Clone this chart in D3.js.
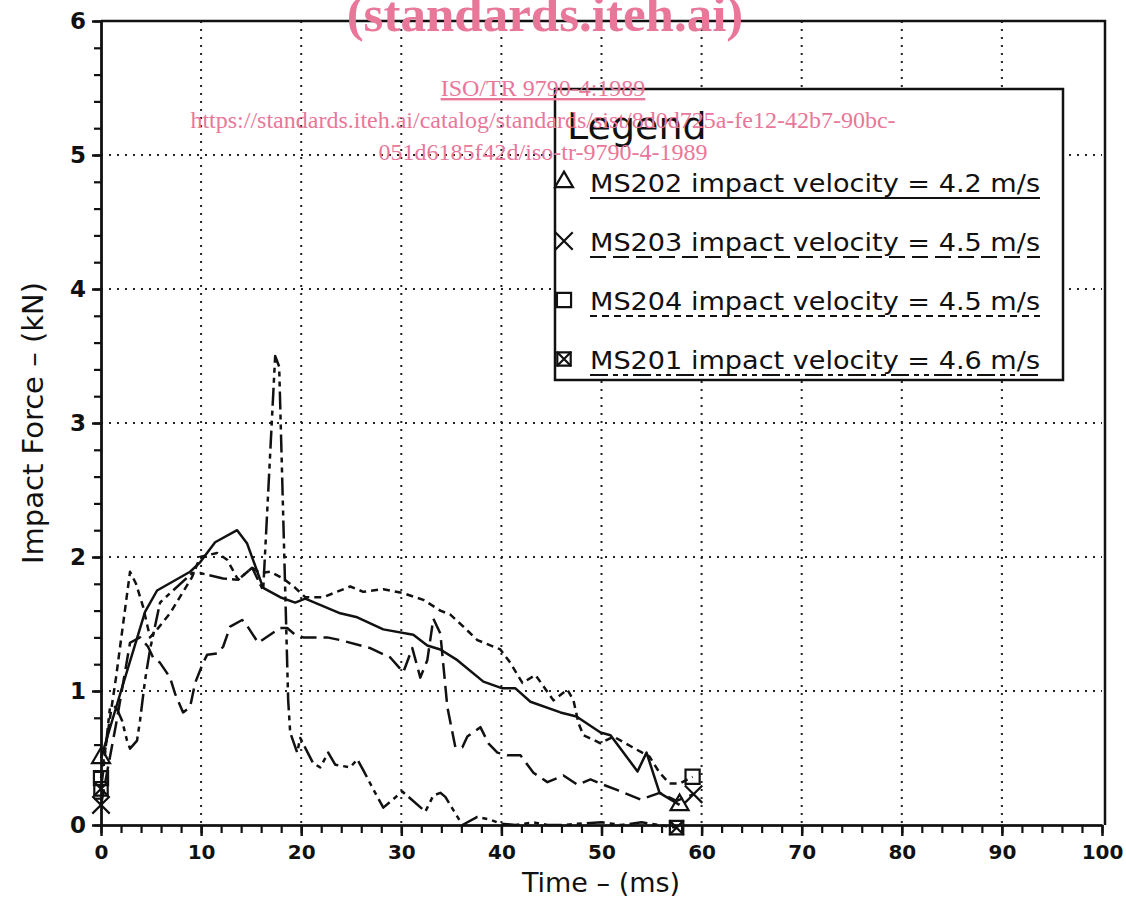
<!DOCTYPE html>
<html lang="en">
<head>
  <meta charset="UTF-8">
  <title>Impact Force vs Time</title>
  <style>
    body{ margin: 0; background: #fff; }
    .tick text{ font-family: "DejaVu Sans", sans-serif; font-weight: bold; fill: #111; }
    .grid-line{ stroke: #222; stroke-width: 2; stroke-dasharray: 2,6; }
    .series{ fill: none; stroke: #111; stroke-width: 2.5; stroke-linejoin: round; }
    .mark{ fill: none; stroke: #111; stroke-width: 2.2; }
    .wm{ fill: #e8779a; font-family: "Liberation Serif", serif; }
  </style>
</head>
<body>
  <script src="https://cdn.jsdelivr.net/npm/d3@7"></script>
  <script>
    // data: [time ms, force kN]
    const ms202 = [[0,0.5],[2,1.0],[4.4,1.59],[5.6,1.75],[8.9,1.89],[9.9,1.96],[11.4,2.11],[13.6,2.2],[14.6,2.1],
      [16.2,1.77],[17.9,1.70],[19.4,1.66],[20.4,1.69],[23.9,1.58],[25.6,1.55],[28.2,1.46],[31.2,1.42],[32.6,1.34],
      [33.9,1.31],[35.6,1.23],[38.2,1.07],[40.1,1.02],[41.4,1.02],[42.9,0.92],[45.9,0.84],[47.5,0.81],[49.9,0.69],
      [50.9,0.67],[53.6,0.40],[54.5,0.54],[55.8,0.24],[57.8,0.15]];
    const ms203 = [[0,0.15],[1.5,0.75],[2.9,1.36],[3.9,1.40],[4.7,1.33],[5.2,1.25],[5.9,1.21],[6.9,1.10],[7.4,0.98],
      [8.2,0.84],[8.9,0.88],[9.4,1.06],[10.2,1.21],[10.6,1.27],[11.6,1.28],[12.2,1.33],[12.9,1.48],[14.1,1.53],
      [14.4,1.51],[15.7,1.36],[17.9,1.47],[18.6,1.47],[19.4,1.42],[20.2,1.40],[22.6,1.40],[23.9,1.38],[26.9,1.32],
      [28.9,1.25],[30.2,1.14],[31.1,1.32],[31.9,1.10],[32.6,1.23],[33.2,1.54],[33.9,1.43],[34.6,0.88],[35.4,0.58],
      [36.1,0.58],[36.6,0.66],[37.9,0.73],[38.7,0.61],[39.6,0.54],[40.6,0.52],[41.9,0.52],[43.2,0.39],[44.6,0.32],
      [46.2,0.37],[47.6,0.30],[48.9,0.34],[50.2,0.30],[51.6,0.26],[53.9,0.19],[55.8,0.24],[57.5,0.18],[59.2,0.23]];
    const ms204 = [[0,0.35],[1.5,1.1],[2.9,1.89],[3.5,1.8],[4.2,1.63],[4.9,1.40],[5.5,1.45],[6.9,1.58],[9.1,1.85],
      [9.9,2.0],[11.6,2.03],[12.6,1.98],[13.7,1.83],[15.1,1.92],[15.9,1.88],[16.9,1.89],[18.2,1.84],[19.4,1.77],
      [20.4,1.70],[22.2,1.70],[24.9,1.78],[26.2,1.74],[28.2,1.76],[30.2,1.73],[32.2,1.68],[33.9,1.60],[34.9,1.57],
      [36.2,1.48],[37.6,1.38],[39.9,1.31],[40.9,1.21],[42.1,1.06],[43.4,1.12],[45.2,0.93],[46.6,1.01],[47.2,0.93],
      [47.7,0.76],[48.2,0.67],[49.9,0.61],[51.2,0.66],[53.1,0.58],[54.8,0.51],[55.8,0.39],[56.8,0.31],[57.8,0.31],[59.1,0.36]];
    const ms201 = [[0,0.27],[0.2,0.39],[0.9,0.88],[1.5,0.88],[2.1,0.78],[2.6,0.63],[2.9,0.57],[3.6,0.63],[3.9,0.78],
      [4.4,1.08],[4.9,1.31],[5.9,1.66],[6.9,1.73],[9.1,1.88],[9.9,1.88],[12.2,1.84],[13.7,1.83],[15.1,1.92],[16.2,1.75],
      [17.4,3.5],[17.8,3.42],[18.7,0.93],[18.9,0.69],[19.6,0.54],[19.9,0.65],[21.2,0.46],[21.9,0.43],[22.7,0.54],
      [23.4,0.45],[24.9,0.43],[25.6,0.49],[26.2,0.41],[27.1,0.28],[28.2,0.13],[30.1,0.25],[32.4,0.10],[33.2,0.22],
      [33.9,0.24],[34.4,0.21],[36.1,0],[37.6,0.06],[38.9,0.04],[39.9,0.01],[41.4,0],[43.2,0.02],[44.6,0],[46.2,0],
      [47.6,0.01],[50,0.02],[52,0],[54,0.02],[57.5,-0.02]];

    const xTicks = d3.range(0, 101, 10);
    const yTicks = d3.range(0, 7, 1);
    const legendNames = ['MS202 impact velocity = 4.2 m/s', 'MS203 impact velocity = 4.5 m/s',
      'MS204 impact velocity = 4.5 m/s', 'MS201 impact velocity = 4.6 m/s'];

    const width = 1126, height = 900;
    const padL = 101, padR = 1102, padT = 21, padB = 825;
    const svg = d3.select('body').append('svg')
      .attr('width', width)
      .attr('height', height);

    const x = d3.scaleLinear().domain([0, 100]).range([padL, padR]);
    const y = d3.scaleLinear().domain([0, 6]).range([padB, padT]);

    function renderGrid(){
      svg.append('g').selectAll('line').data(xTicks.slice(1, -1)).join('line')
        .classed('grid-line', true)
        .attr('x1', d => x(d)).attr('x2', d => x(d))
        .attr('y1', padT).attr('y2', padB);
      svg.append('g').selectAll('line').data(yTicks.slice(1, -1)).join('line')
        .classed('grid-line', true)
        .attr('x1', padL).attr('x2', padR)
        .attr('y1', d => y(d)).attr('y2', d => y(d));
      // frame top + right
      svg.append('path')
        .attr('d', `M${padL},${padT}H${padR + 3}V${padB}`)
        .attr('fill', 'none').attr('stroke', '#111').attr('stroke-width', 2.5);
    }

    function renderX(){
      const minor = d3.axisBottom(x).tickValues(d3.range(0, 101, 2)).tickSize(8).tickSizeOuter(0).tickFormat('');
      svg.append('g').attr('transform', `translate(0,${padB})`).call(minor)
        .call(g => g.selectAll('line,path').attr('stroke', '#111').attr('stroke-width', 2.2));
      const xAxis = d3.axisBottom(x).tickValues(xTicks).tickSize(11).tickSizeOuter(0).tickPadding(9)
        .tickFormat(d3.format('d'));
      svg.append('g').attr('class', 'x-axis').attr('transform', `translate(0,${padB})`).call(xAxis)
        .call(g => g.selectAll('line,path').attr('stroke', '#111').attr('stroke-width', 2.5))
        .call(g => g.selectAll('text').attr('font-size', 20));
    }

    function renderY(){
      const minor = d3.axisLeft(y).tickValues(d3.range(0, 6.01, 0.2)).tickSize(7).tickSizeOuter(0).tickFormat('');
      svg.append('g').attr('transform', `translate(${padL},0)`).call(minor)
        .call(g => g.selectAll('line,path').attr('stroke', '#111').attr('stroke-width', 2.2));
      const yAxis = d3.axisLeft(y).tickValues(yTicks).tickSize(9).tickSizeOuter(0).tickPadding(6)
        .tickFormat(d3.format('d'));
      svg.append('g').attr('class', 'y-axis').attr('transform', `translate(${padL},0)`).call(yAxis)
        .call(g => g.selectAll('line,path').attr('stroke', '#111').attr('stroke-width', 2.5))
        .call(g => g.selectAll('text').attr('font-size', 23));
    }

    const styles = [
      { data: ms202, dash: null, mark: 'tri' },
      { data: ms203, dash: '16,7', mark: 'x' },
      { data: ms204, dash: '7,5', mark: 'sq' },
      { data: ms201, dash: '18,5,5,5,5,5', mark: 'bx' }
    ];

    function drawMark(g, kind, cx, cy){
      const sym = { tri: d3.symbolTriangle, x: d3.symbolTimes, sq: d3.symbolSquare };
      const size = { tri: 140, x: 200, sq: 200 };
      if(kind === 'bx'){
        g.append('path').attr('class', 'mark').attr('transform', `translate(${cx},${cy})`)
          .attr('d', d3.symbol(d3.symbolSquare, 180)());
        g.append('path').attr('class', 'mark').attr('transform', `translate(${cx},${cy})`)
          .attr('d', d3.symbol(d3.symbolTimes, 140)());
        return;
      }
      g.append('path').attr('class', 'mark').attr('transform', `translate(${cx},${cy})`)
        .attr('d', d3.symbol(sym[kind], size[kind])());
    }

    function renderSeries(){
      const line = d3.line().x(d => x(d[0])).y(d => y(d[1]));
      const g = svg.append('g');
      styles.forEach(s => {
        g.append('path').datum(s.data).attr('class', 'series')
          .attr('stroke-dasharray', s.dash).attr('d', line);
        const first = s.data[0], last = s.data[s.data.length - 1];
        drawMark(g, s.mark, x(first[0]), y(first[1]));
        drawMark(g, s.mark, x(last[0]), y(last[1]));
      });
    }

    function renderLegend(){
      const g = svg.append('g');
      g.append('rect').attr('x', 555).attr('y', 89).attr('width', 508).attr('height', 291)
        .attr('fill', '#fff').attr('stroke', '#111').attr('stroke-width', 2.5);
      g.append('text').attr('x', 567).attr('y', 139).text('Legend')
        .attr('font-family', 'DejaVu Sans, sans-serif').attr('font-size', 38).attr('fill', '#111');
      legendNames.forEach((name, i) => {
        const ry = 192 + i * 59;
        drawMark(g, styles[i].mark, 564, ry - 10);
        g.append('text').attr('x', 590).attr('y', ry).text(name)
          .attr('font-family', 'DejaVu Sans, sans-serif').attr('font-size', 25).attr('fill', '#111')
          .attr('textLength', 450).attr('lengthAdjust', 'spacingAndGlyphs');
        g.append('line').attr('x1', 590).attr('x2', 1040).attr('y1', ry + 6).attr('y2', ry + 6)
          .attr('stroke', '#111').attr('stroke-width', 2.2).attr('stroke-dasharray', styles[i].dash);
      });
    }

    function renderTitles(){
      svg.append('text').attr('x', 601).attr('y', 892).attr('text-anchor', 'middle')
        .attr('font-family', 'DejaVu Sans, sans-serif').attr('font-size', 27).attr('fill', '#111')
        .text('Time – (ms)');
      svg.append('text').attr('transform', 'translate(43,423) rotate(-90)').attr('text-anchor', 'middle')
        .attr('font-family', 'DejaVu Sans, sans-serif').attr('font-size', 29).attr('fill', '#111')
        .text('Impact Force – (kN)');
    }

    function renderWatermark(){
      svg.append('text').attr('class', 'wm').attr('x', 545).attr('y', 31).attr('text-anchor', 'middle')
        .attr('font-size', 51).attr('font-weight', 'bold').text('(standards.iteh.ai)');
      svg.append('text').attr('class', 'wm').attr('x', 543).attr('y', 96).attr('text-anchor', 'middle')
        .attr('font-size', 24).attr('text-decoration', 'underline').text('ISO/TR 9790-4:1989');
      svg.append('text').attr('class', 'wm').attr('x', 543).attr('y', 128).attr('text-anchor', 'middle')
        .attr('font-size', 24).text('https://standards.iteh.ai/catalog/standards/sist/8d0d725a-fe12-42b7-90bc-');
      svg.append('text').attr('class', 'wm').attr('x', 543).attr('y', 160).attr('text-anchor', 'middle')
        .attr('font-size', 24).text('051d6185f42d/iso-tr-9790-4-1989');
    }

    renderGrid();
    renderX();
    renderY();
    renderSeries();
    renderLegend();
    renderTitles();
    renderWatermark();
  </script>
</body>
</html>
